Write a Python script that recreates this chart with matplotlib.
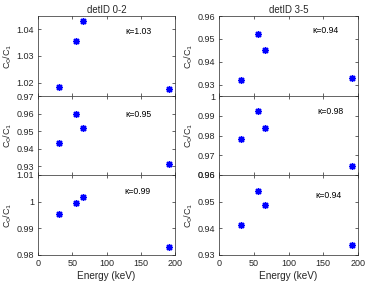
import matplotlib
matplotlib.use('Agg')
import matplotlib.pyplot as plt
from matplotlib.ticker import FuncFormatter

plt.rcParams['font.family'] = ['Liberation Sans', 'DejaVu Sans']

# Energies (keV) of the four lines
energy = [31, 56, 66, 191]

# C0/C1 ratio per panel: rows top->bottom, columns detID 0-2 / 3-5
ratio_02 = [
    [1.0185, 1.0356, 1.0430, 1.0175],
    [0.9431, 0.9600, 0.9515, 0.9310],
    [0.9954, 0.9994, 1.0016, 0.9830],
]
ratio_35 = [
    [0.9320, 0.9522, 0.9450, 0.9330],
    [0.9780, 0.9925, 0.9838, 0.9648],
    [0.9412, 0.9541, 0.9486, 0.9336],
]
kappa_02 = ['1.03', '0.95', '0.99']
kappa_35 = ['0.94', '0.98', '0.94']
titles = ['detID 0-2', 'detID 3-5']

ylims_02 = [(1.015, 1.045), (0.925, 0.97), (0.98, 1.01)]
ylims_35 = [(0.925, 0.96), (0.96, 1.0), (0.93, 0.96)]
yticks_02 = [[1.02, 1.03, 1.04], [0.93, 0.94, 0.95, 0.96, 0.97], [0.98, 0.99, 1.0, 1.01]]
yticks_35 = [[0.93, 0.94, 0.95, 0.96], [0.96, 0.97, 0.98, 0.99, 1.0], [0.93, 0.94, 0.95, 0.96]]
kappa_pos_02 = [(0.64, 0.80), (0.64, 0.76), (0.63, 0.80)]
kappa_pos_35 = [(0.67, 0.82), (0.71, 0.80), (0.69, 0.75)]

fig = plt.figure(figsize=(3.66, 2.83), dpi=100)

col_x = [38 / 366, 219 / 366]
col_w = [137 / 366, 139 / 366]
row_top = [16, 96, 175]
row_bot = [96, 175, 255]

grey = '#262626'


def matlab_fmt(v, pos):
    # MATLAB style: 1 rather than 1.00
    if abs(v - round(v)) < 1e-9:
        return f'{int(round(v))}'
    return f'{v:.2f}'.rstrip('0').rstrip('.')


for c in range(2):
    data = ratio_02 if c == 0 else ratio_35
    ylims = ylims_02 if c == 0 else ylims_35
    yticks = yticks_02 if c == 0 else yticks_35
    kappas = kappa_02 if c == 0 else kappa_35
    kpos = kappa_pos_02 if c == 0 else kappa_pos_35
    for r in range(3):
        b = 1 - row_bot[r] / 283
        h = (row_bot[r] - row_top[r]) / 283
        ax = fig.add_axes([col_x[c], b, col_w[c], h])
        ax.plot(energy, data[r], linestyle='none', marker=(8, 2, 0),
                color='blue', markersize=5, markeredgewidth=1.0)
        ax.set_xlim(0, 200)
        ax.set_ylim(*ylims[r])
        ax.set_xticks([0, 50, 100, 150, 200])
        ax.set_yticks(yticks[r])
        ax.yaxis.set_major_formatter(FuncFormatter(matlab_fmt))
        ax.tick_params(direction='in', top=True, right=True, length=2.5,
                       width=0.5, labelsize=6.5, colors=grey, pad=3)
        for s in ax.spines.values():
            s.set_linewidth(0.5)
            s.set_color(grey)
        ax.set_ylabel(r'C$_0$/C$_1$', fontsize=6.5, color=grey, labelpad=1.5)
        if r < 2:
            ax.tick_params(labelbottom=False)
        else:
            ax.set_xlabel('Energy (keV)', fontsize=7.2, color=grey, labelpad=2)
        if r == 0:
            ax.set_title(titles[c], fontsize=6.9, color=grey, pad=2.5)
        ax.text(kpos[r][0], kpos[r][1], '\u03ba=' + kappas[r], transform=ax.transAxes,
                fontsize=6.2, ha='left', va='center', color='black')

fig.savefig('out.png', dpi=100)
